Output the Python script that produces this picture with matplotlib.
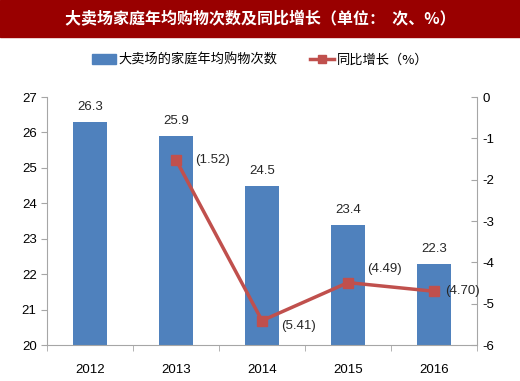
import numpy as np
import matplotlib.pyplot as plt
from matplotlib import rcParams
from matplotlib.lines import Line2D
from matplotlib.patches import Patch

rcParams['font.family'] = ['Noto Sans CJK SC', 'DejaVu Sans']
rcParams['axes.unicode_minus'] = False

years = ['2012', '2013', '2014', '2015', '2016']
trips = [26.3, 25.9, 24.5, 23.4, 22.3]
growth_years = ['2013', '2014', '2015', '2016']
growth = [-1.52, -5.41, -4.49, -4.70]

bar_color = '#4F81BD'
line_color = '#C0504D'
axis_gray = '#A6A6A6'
num_font = 'Liberation Sans'

fig = plt.figure(figsize=(5.2, 3.81), dpi=100)

# title banner
fig.patches.append(plt.Rectangle((0, 1 - 37 / 381), 1, 37 / 381, transform=fig.transFigure,
                                 color='#990000', zorder=0))
fig.text(0.5, 1 - 19 / 381, '大卖场家庭年均购物次数及同比增长（单位：  次、%）', color='white',
         ha='center', va='center', fontsize=11.5, fontweight='bold')

ax = fig.add_axes([47 / 520, 1 - 345 / 381, 430 / 520, 248 / 381])
x = np.arange(len(years))
ax.bar(x, trips, width=0.4, color=bar_color, zorder=2)
for xi, v in zip(x, trips):
    ax.text(xi, v + 0.25, f'{v:.1f}', ha='center', va='bottom', fontsize=9.5,
            family=num_font, color='#262626')

ax.set_ylim(20, 27)
ax.set_xlim(-0.5, len(years) - 0.5)
ax.set_yticks(range(20, 28))
ax.set_xticks(x)
ax.set_xticklabels(years, family=num_font, fontsize=9.5)
ax.set_xticks(np.arange(-0.5, len(years)), minor=True)
ax.tick_params(axis='x', which='major', length=0, pad=14)
ax.tick_params(axis='x', which='minor', length=4, color=axis_gray)
ax.tick_params(axis='y', length=4, color=axis_gray, labelsize=9.5)
for lbl in ax.get_yticklabels():
    lbl.set_family(num_font)
for s in ['top', 'right']:
    ax.spines[s].set_visible(False)
for s in ['left', 'bottom']:
    ax.spines[s].set_color(axis_gray)

ax2 = ax.twinx()
gx = [years.index(y) for y in growth_years]
ax2.plot(gx, growth, color=line_color, lw=2.5, marker='s', ms=7, zorder=3)
ax2.set_ylim(-6, 0)
ax2.set_yticks(range(-6, 1))
ax2.tick_params(axis='y', direction='in', length=4, color=axis_gray, labelsize=9.5, pad=4)
for lbl in ax2.get_yticklabels():
    lbl.set_family(num_font)
for s in ['top', 'left', 'bottom']:
    ax2.spines[s].set_visible(False)
ax2.spines['right'].set_color(axis_gray)

offsets = [(14, 0), (14, -4), (14, 10), (8, 0)]
for xi, v, (dx, dy) in zip(gx, growth, offsets):
    ax2.annotate(f'({abs(v):.2f})', (xi, v), xytext=(dx, dy), textcoords='offset points',
                 ha='left', va='center', fontsize=9.5, family=num_font, color='#262626')

handles = [Patch(color=bar_color), Line2D([], [], color=line_color, lw=2.5, marker='s', ms=6)]
fig.legend(handles, ['大卖场的家庭年均购物次数', '同比增长（%）'], loc='center',
           bbox_to_anchor=(0.5, 1 - 60 / 381), ncol=2, frameon=False, fontsize=9.5,
           handlelength=1.8, columnspacing=2.5, handletextpad=0.2)

plt.savefig('out.png', dpi=100)
